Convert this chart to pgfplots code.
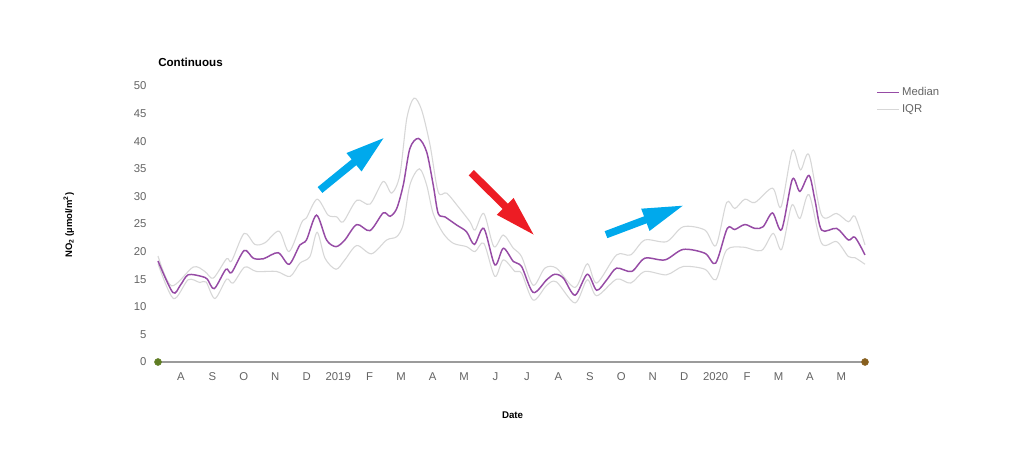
\documentclass[border=0pt]{standalone}
\usepackage{fontspec}
\setmainfont{Liberation Sans}
\usepackage{pgfplots}
\usepackage{pgfplotstable}
\pgfplotsset{compat=1.18}
\usetikzlibrary{arrows.meta}
\definecolor{medc}{RGB}{150,75,165}
\definecolor{iqrc}{RGB}{215,215,215}
\definecolor{tickc}{RGB}{100,100,100}
\definecolor{basec}{RGB}{155,155,155}
\definecolor{dotg}{RGB}{95,125,35}
\definecolor{dotb}{RGB}{135,95,30}
\definecolor{arrblue}{RGB}{0,169,236}
\definecolor{arrred}{RGB}{237,28,36}

\pgfplotstableread{
m v
0.27 18.3
0.74 12.6
0.98 13.9
1.23 15.8
1.66 15.5
1.84 15.0
2.06 13.3
2.43 16.8
2.61 16.2
3.01 20.2
3.30 18.8
3.62 18.7
4.09 19.8
4.44 17.7
4.78 21.2
4.99 22.1
5.31 26.6
5.63 22.1
5.93 20.9
6.21 22.1
6.59 24.9
7.01 23.8
7.43 27.0
7.65 26.4
7.86 27.8
8.07 32.1
8.28 38.7
8.55 40.5
8.81 38.1
9.02 32.1
9.18 26.9
9.39 26.3
9.77 24.8
10.08 23.6
10.33 21.3
10.63 24.2
10.98 17.6
11.25 20.6
11.57 18.2
11.83 17.3
12.20 12.6
12.63 14.9
12.89 15.9
13.16 15.2
13.53 12.1
13.92 15.9
14.22 13.0
14.54 14.9
14.85 17.0
15.33 16.4
15.75 18.8
16.39 18.5
16.97 20.4
17.66 19.7
18.00 17.9
18.37 24.2
18.61 24.0
18.93 24.9
19.25 24.2
19.51 24.5
19.81 27.0
20.10 24.0
20.44 33.1
20.68 30.9
20.97 33.8
21.16 29.3
21.37 23.9
21.85 24.2
22.22 22.1
22.43 22.6
22.75 19.4
}\medtab

\pgfplotstableread{
m v
0.27 19.2
0.70 13.8
1.39 17.2
1.76 16.4
2.03 15.2
2.45 18.7
2.61 18.3
3.01 23.3
3.35 21.3
3.67 21.6
4.12 23.7
4.44 20.0
4.84 25.3
4.99 26.1
5.33 29.5
5.68 26.6
5.95 26.3
6.16 25.4
6.59 29.3
7.01 28.6
7.43 32.7
7.70 30.6
7.96 33.9
8.18 44.1
8.41 47.8
8.65 45.7
8.92 39.3
9.18 30.8
9.45 30.6
9.82 28.1
10.19 25.4
10.35 23.9
10.63 26.9
10.95 20.9
11.25 23.0
11.57 20.6
11.83 19.1
12.20 13.9
12.57 17.0
12.94 17.0
13.53 13.5
13.92 17.8
14.22 14.3
14.85 19.4
15.30 19.4
15.75 22.1
16.44 21.8
16.97 24.5
17.66 23.9
18.01 21.1
18.35 28.9
18.61 27.8
18.93 29.5
19.25 28.9
19.81 31.5
20.08 28.1
20.44 38.3
20.70 34.8
20.97 37.5
21.37 26.6
21.85 26.9
22.22 25.4
22.43 26.4
22.75 21.2
}\uptab

\pgfplotstableread{
m v
0.27 17.8
0.76 11.5
1.23 14.9
1.60 14.4
1.80 14.5
2.08 11.5
2.45 15.0
2.66 14.3
3.03 17.2
3.40 16.4
4.04 16.4
4.47 15.5
4.78 17.9
5.10 19.1
5.33 23.5
5.58 18.8
5.93 16.8
6.21 18.5
6.59 21.1
7.06 19.6
7.54 22.1
7.86 22.7
8.07 25.0
8.28 32.1
8.58 35.0
8.81 32.1
9.02 26.9
9.34 23.3
9.66 21.5
10.08 20.9
10.35 20.0
10.63 21.5
10.98 15.5
11.25 18.5
11.62 16.4
11.83 16.1
12.20 11.2
12.63 13.9
12.94 14.5
13.53 10.7
13.92 14.9
14.22 12.0
14.85 15.0
15.30 14.3
15.75 16.4
16.44 15.8
16.97 17.3
17.66 16.8
18.01 14.9
18.35 20.3
18.88 20.8
19.46 20.2
19.83 23.3
20.10 20.4
20.42 28.4
20.68 26.0
20.97 30.3
21.37 21.5
21.85 21.8
22.22 19.1
22.43 18.9
22.75 17.7
}\lowtab

\begin{document}
\begin{tikzpicture}
\fill[white] (-118.5pt,-65.25pt) rectangle (649.5pt,271.5pt);
\begin{axis}[
  at={(0pt,0pt)}, anchor=south west,
  scale only axis, width=530.25pt, height=207pt,
  xmin=0.27, xmax=22.75, ymin=0, ymax=50,
  clip=false,
  axis x line*=bottom, axis y line*=left,
  y axis line style={draw=none},
  x axis line style={draw=basec, line width=1.2pt},
  major tick length=0pt,
  xtick={1,...,22},
  xticklabels={A,S,O,N,D,2019,F,M,A,M,J,J,A,S,O,N,D,2020,F,M,A,M},
  ytick={0,5,...,50},
  /pgf/number format/assume math mode=true,
  tick label style={font=\fontsize{8.5}{10}\selectfont, text=tickc},
  yticklabel style={anchor=east, inner sep=0pt, xshift=-8.5pt},
  xticklabel style={anchor=north, inner sep=0pt, yshift=-7.5pt},
  xlabel={Date},
  xlabel style={font=\bfseries\fontsize{7.3}{9}\selectfont, at={(axis description cs:0.5015,-0.191)}, anchor=center},
  ylabel={NO\textsubscript{2} (µmol/m\textsuperscript{2})},
  ylabel style={font=\bfseries\fontsize{7.1}{9}\selectfont, at={(axis description cs:-0.1262,0.496)}, anchor=center, rotate=0},
  title={Continuous},
  title style={font=\bfseries\fontsize{8.7}{10}\selectfont, at={(axis description cs:0,1.0555)}, anchor=west, inner sep=0pt},
  reverse legend,
  legend style={draw=none, fill=none, at={(1,1)}, anchor=north west, xshift=5.5pt, yshift=3pt,
    font=\fontsize{8.5}{10}\selectfont, text=tickc, row sep=1pt},
  legend cell align=left,
  legend image code/.code={\draw[#1] (0pt,0pt) -- (16pt,0pt);},
]
\addplot[iqrc, line width=0.8pt, smooth] table[x=m,y=v] {\uptab};
\addlegendentry{IQR}
\addplot[iqrc, line width=0.8pt, smooth, forget plot] table[x=m,y=v] {\lowtab};
\addplot[medc, line width=1.1pt, smooth] table[x=m,y=v] {\medtab};
\addlegendentry{Median}
\addplot[only marks, mark=*, mark size=2.6pt, dotg, forget plot] coordinates {(0.27,0)};
\addplot[only marks, mark=*, mark size=2.6pt, dotb, forget plot] coordinates {(22.75,0)};
\end{axis}
\draw[arrblue, line width=5.6pt, -{Triangle[length=30pt,width=16pt]}] (121.5pt,129pt) -- (170.25pt,168.75pt);
\draw[arrred, line width=5.6pt, -{Triangle[length=31.5pt,width=16pt]}] (235pt,142pt) -- (282.75pt,94.5pt);
\draw[arrblue, line width=5.6pt, -{Triangle[length=31.5pt,width=16pt]}] (336pt,95.5pt) -- (395pt,117.75pt);
\pgfresetboundingbox
\path[use as bounding box] (-118.5pt,-65.25pt) rectangle (649.5pt,271.5pt);
\end{tikzpicture}
\end{document}
